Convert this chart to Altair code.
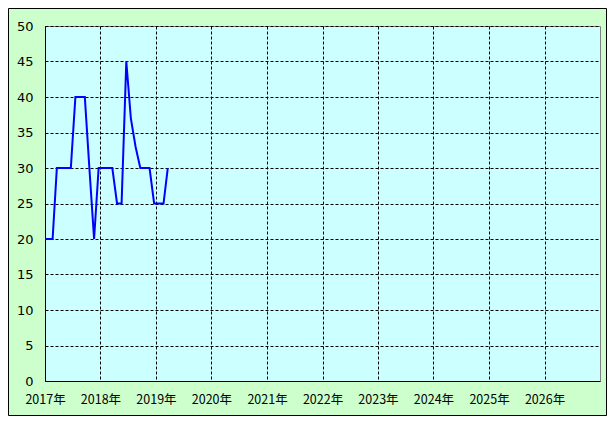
import altair as alt
import pandas as pd

# Monthly readings (approx. 20th of each month)
dates = [
    "2017-01-01", "2017-02-20", "2017-03-20", "2017-04-20", "2017-05-20", "2017-06-20",
    "2017-07-20", "2017-08-20", "2017-09-20", "2017-10-20", "2017-11-20", "2017-12-20",
    "2018-01-20", "2018-02-20", "2018-03-20", "2018-04-20", "2018-05-20", "2018-06-20",
    "2018-07-20", "2018-08-20", "2018-09-20", "2018-10-20", "2018-11-20", "2018-12-20",
    "2019-01-20", "2019-02-20", "2019-03-20",
]
values = [
    20, 20, 30, 30, 30, 30,
    40, 40, 40, 30, 20, 30,
    30, 30, 30, 25, 25, 45,
    37, 33, 30, 30, 30, 25,
    25, 25, 30,
]
years = list(range(2017, 2027))
y_ticks = list(range(0, 55, 5))

df = pd.DataFrame({"date": dates, "value": values})

W, H = 555, 355
PAD = {"left": 37, "top": 18, "right": 7, "bottom": 35}

line = alt.Chart(df).mark_line(color="#0000ff", strokeWidth=2).encode(
    x=alt.X(
        "date:T",
        scale=alt.Scale(
            type="utc",
            domain=[alt.DateTime(year=2017, month=1, date=1, utc=True),
                    alt.DateTime(year=2027, month=1, date=1, utc=True)],
        ),
        axis=alt.Axis(
            values=[alt.DateTime(year=y, month=1, date=1, utc=True) for y in years],
            labelExpr="utcFormat(datum.value, '%Y') + '年'",
            title=None,
            grid=True,
            gridColor="black",
            gridDash=[3, 2],
            gridWidth=1,
            tickSize=0,
            labelPadding=12,
            domainColor="black",
            labelFont="Noto Sans CJK JP",
            labelFontSize=12.5,
            labelColor="black",
            labelAngle=0,
            labelFlush=False,
            labelOverlap=False,
        ),
    ),
    y=alt.Y(
        "value:Q",
        scale=alt.Scale(domain=[0, 50], nice=False),
        axis=alt.Axis(
            values=y_ticks,
            title=None,
            grid=True,
            gridColor="black",
            gridDash=[3, 2],
            gridWidth=1,
            tickSize=0,
            labelPadding=12,
            domainColor="black",
            labelFont="DejaVu Sans",
            labelFontSize=13,
            labelColor="black",
            labelFlush=False,
            labelOverlap=False,
        ),
    ),
)

frame = alt.Chart(pd.DataFrame({"a": [0]})).mark_rect(
    fill="transparent", stroke="black", strokeWidth=1
).encode(
    x=alt.value(-PAD["left"] + 0.5),
    x2=alt.value(W + PAD["right"] - 0.5),
    y=alt.value(-PAD["top"] + 0.5),
    y2=alt.value(H + PAD["bottom"] - 0.5),
)

chart = alt.layer(line, frame).properties(
    width=W,
    height=H,
    autosize=alt.AutoSizeParams(type="none"),
    padding=PAD,
    background="#ccffcc",
).configure_view(
    fill="#ccffff",
    stroke="#808080",
    strokeWidth=1,
)

chart.save("out.html", embed_options={"renderer": "svg", "actions": False})
